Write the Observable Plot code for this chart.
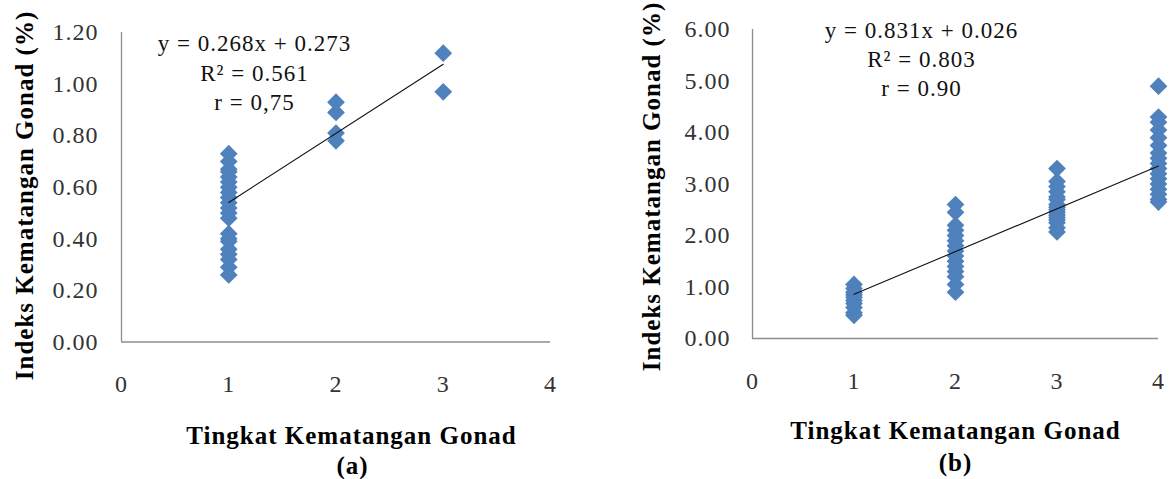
<!DOCTYPE html>
<html>
<head>
<meta charset="utf-8">
<script src="https://cdn.jsdelivr.net/npm/d3@7"></script>
<script src="https://cdn.jsdelivr.net/npm/@observablehq/plot@0.6"></script>
<style>
  body { margin: 0; background: #fff; }
  #wrap { position: relative; width: 1173px; height: 479px; overflow: hidden; background: #fff; }
  #wrap svg { position: absolute; top: 0; }
  #wrap svg text { letter-spacing: 1px; }
</style>
</head>
<body>
<div id="wrap"></div>
<script>
// ---- Data ----
// Panel (a): IKG (%) per TKG level
const tkgLevelsA = [1, 2, 3];
const igkA_tkg1 = [0.73, 0.70, 0.67, 0.66, 0.64, 0.62, 0.60, 0.58, 0.56, 0.54, 0.52, 0.50, 0.48, 0.42, 0.40, 0.39, 0.36, 0.34, 0.32, 0.29, 0.26];
const igkA_tkg2 = [0.93, 0.89, 0.81, 0.78];
const igkA_tkg3 = [1.12, 0.97];
// Panel (b)
const tkgLevelsB = [1, 2, 3, 4];
const igkB_tkg1 = [1.05, 0.97, 0.90, 0.85, 0.80, 0.74, 0.68, 0.60, 0.50, 0.45];
const igkB_tkg2 = [2.60, 2.45, 2.20, 2.10, 2.00, 1.90, 1.80, 1.70, 1.60, 1.50, 1.40, 1.30, 1.20, 1.05, 0.90];
const igkB_tkg3 = [3.30, 3.05, 2.95, 2.85, 2.75, 2.70, 2.60, 2.55, 2.50, 2.45, 2.40, 2.35, 2.30, 2.25, 2.15, 2.07];
const igkB_tkg4 = [4.90, 4.30, 4.20, 4.05, 3.90, 3.75, 3.60, 3.50, 3.40, 3.30, 3.20, 3.10, 3.00, 2.90, 2.80, 2.70, 2.65];

// Trend lines (from the equations shown)
const slopes = [0.268, 0.831];
const intercepts = [0.273, 0.026];

// Tick values and labels
const xTicks = [0, 1, 2, 3, 4];
const yTicksA = [0, 0.2, 0.4, 0.6, 0.8, 1.0, 1.2];
const yTicksB = [0, 1, 2, 3, 4, 5, 6];
const equationA = ["y = 0.268x + 0.273", "R² = 0.561", "r = 0,75"];
const equationB = ["y = 0.831x + 0.026", "R² = 0.803", "r = 0.90"];
const xTitle = "Tingkat Kematangan Gonad";
const yTitle = "Indeks Kematangan Gonad (%)";
const panelTags = ["(a)", "(b)"];

// ---- Drawing ----
const serif = "'Liberation Serif','Times New Roman',serif";
const blue = "#4f81bd";
const axisGray = "#8c8c8c";

function makePanel(cfg) {
  const pts = cfg.groups.flatMap((vals, i) => vals.map(v => ({tkg: cfg.levels[i], igk: v})));
  const xs = d3.extent(pts, d => d.tkg);
  const fit = xs.map(x => ({tkg: x, igk: cfg.slope * x + cfg.intercept}));
  const txt = (s, o) => Plot.text([s], Object.assign({
    frameAnchor: "top-left", textAnchor: "middle", lineAnchor: "middle",
    fontFamily: serif, fill: "#111"
  }, o));
  const marks = [
    Plot.ruleX([0], {stroke: axisGray, strokeWidth: 1.3}),
    Plot.ruleY([0], {stroke: axisGray, strokeWidth: 1.3}),
    Plot.axisY({ticks: cfg.yTicks, tickFormat: d3.format(".2f"), tickSize: 0, tickPadding: cfg.yPad,
      label: null, fontSize: 24, fontFamily: serif, fill: "#333"}),
    Plot.axisX({ticks: xTicks, tickFormat: d3.format("d"), tickSize: 0, tickPadding: 33,
      label: null, fontSize: 24, fontFamily: serif, fill: "#333"}),
    Plot.dot(pts, {x: "tkg", y: "igk", symbol: "diamond2", r: 8, fill: blue, stroke: "none"}),
    Plot.line(fit, {x: "tkg", y: "igk", stroke: "#111", strokeWidth: 1.1}),
    ...cfg.equation.map((s, i) => txt(s, {dx: cfg.eqDx, dy: cfg.eqDy[i], fontSize: 23})),
    txt(yTitle, {dx: cfg.yTitle[0], dy: cfg.yTitle[1], rotate: -90, fontSize: 25, fontWeight: "bold", fill: "#000"}),
    txt(xTitle, {dx: cfg.xTitle[0], dy: cfg.xTitle[1], fontSize: 25, fontWeight: "bold", fill: "#000"}),
    txt(cfg.tag, {dx: cfg.tagPos[0], dy: cfg.tagPos[1], fontSize: 25, fontWeight: "bold", fill: "#000"})
  ];
  const svg = Plot.plot({
    width: cfg.width, height: 479,
    marginLeft: cfg.margins[0], marginRight: cfg.margins[1], marginTop: cfg.margins[2], marginBottom: cfg.margins[3],
    x: {domain: [0, 4]},
    y: {domain: [0, cfg.yMax]},
    style: {fontFamily: serif, fontSize: "24px", color: "#222", background: "transparent", overflow: "visible"},
    marks
  });
  svg.style.left = cfg.left + "px";
  document.getElementById("wrap").appendChild(svg);
}

makePanel({
  left: 0, width: 585, margins: [121, 35, 32, 137.5],
  levels: tkgLevelsA, groups: [igkA_tkg1, igkA_tkg2, igkA_tkg3],
  slope: slopes[0], intercept: intercepts[0], yMax: 1.2, yTicks: yTicksA, yPad: 23,
  equation: equationA, eqDx: 133, eqDy: [11, 41, 70],
  yTitle: [-97, 163], xTitle: [230, 403], tag: panelTags[0], tagPos: [231, 433]
});
makePanel({
  left: 585, width: 588, margins: [167, 15, 29, 141],
  levels: tkgLevelsB, groups: [igkB_tkg1, igkB_tkg2, igkB_tkg3, igkB_tkg4],
  slope: slopes[1], intercept: intercepts[1], yMax: 6, yTicks: yTicksB, yPad: 22,
  equation: equationB, eqDx: 169, eqDy: [1, 30, 59],
  yTitle: [-101, 157], xTitle: [203, 401], tag: panelTags[1], tagPos: [203, 433]
});
</script>
</body>
</html>
